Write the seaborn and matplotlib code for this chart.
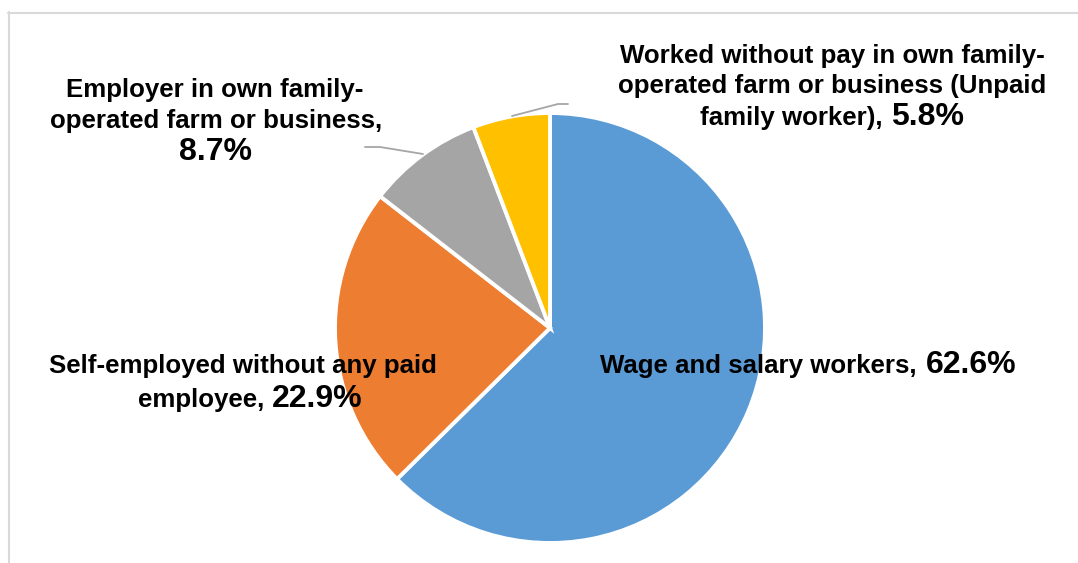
import matplotlib.pyplot as plt
import seaborn as sns
from matplotlib.lines import Line2D

categories = ["Wage and salary workers",
              "Self-employed without any paid employee",
              "Employer in own family-operated farm or business",
              "Worked without pay in own family-operated farm or business (Unpaid family worker)"]
shares = [62.6, 22.9, 8.7, 5.8]
colors = ["#5B9BD5", "#ED7D31", "#A5A5A5", "#FFC000"]

sns.set_theme(style="white")
plt.rcParams['font.family'] = ['Liberation Sans', 'DejaVu Sans']

W, H = 1078, 563
fig = plt.figure(figsize=(W / 100, H / 100), dpi=100)

# pie in its own axes so it stays round
pax = fig.add_axes([(550 - 215) / W, (H - 328 - 215) / H, 430 / W, 430 / H])
pax.pie(shares, colors=colors, startangle=90, counterclock=False,
        wedgeprops=dict(edgecolor="white", linewidth=2.8))
pax.set_xlim(-1, 1)
pax.set_ylim(-1, 1)
pax.set_aspect("equal")

# overlay axes in pixel units for labels
ax = fig.add_axes([0, 0, 1, 1])
ax.set_xlim(0, W)
ax.set_ylim(H, 0)
ax.set_axis_off()

# chart frame (top and left edges visible)
fig.add_artist(Line2D([8 / W, 1], [1 - 12.5 / H, 1 - 12.5 / H], color="#D9D9D9", lw=1.5))
fig.add_artist(Line2D([8.5 / W, 8.5 / W], [0, 1 - 12 / H], color="#D9D9D9", lw=1.5))

name_fs = 18.6
pct_fs = 23
pct = [f"{v}%" for v in shares]
kw = dict(fontweight="bold", color="black", va="baseline")

# Wage and salary workers
ax.text(917, 373, "Wage and salary workers,", ha="right", fontsize=name_fs, **kw)
ax.text(926, 373, pct[0], ha="left", fontsize=pct_fs, **kw)

# Self-employed
ax.text(243, 373, "Self-employed without any paid", ha="center", fontsize=name_fs, **kw)
ax.text(264, 407, "employee,", ha="right", fontsize=name_fs, **kw)
ax.text(272, 407, pct[1], ha="left", fontsize=pct_fs, **kw)

# Employer
ax.text(215, 97, "Employer in own family-", ha="center", fontsize=name_fs, **kw)
ax.text(216, 128, "operated farm or business,", ha="center", fontsize=name_fs, **kw)
ax.text(215, 160, pct[2], ha="center", fontsize=pct_fs, **kw)

# Unpaid family worker
ax.text(832, 63, "Worked without pay in own family-", ha="center", fontsize=name_fs, **kw)
ax.text(832, 93, "operated farm or business (Unpaid", ha="center", fontsize=name_fs, **kw)
ax.text(883, 125, "family worker),", ha="right", fontsize=name_fs, **kw)
ax.text(891, 125, pct[3], ha="left", fontsize=pct_fs, **kw)

# leader lines
ax.plot([365, 380, 423], [147, 147, 154], color="#A6A6A6", lw=1.3)
ax.plot([512, 558, 568], [116, 104, 104], color="#A6A6A6", lw=1.3)

fig.savefig("out.png", dpi=100, facecolor="white")
